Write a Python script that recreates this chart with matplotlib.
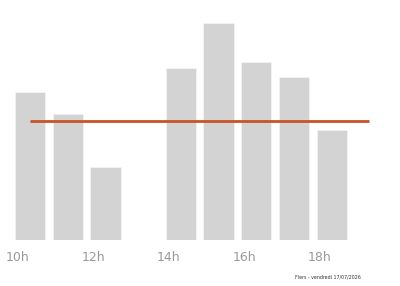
import matplotlib.pyplot as plt
import numpy as np

# hourly values (13h and 19h are empty)
hours = [10, 11, 12, 13, 14, 15, 16, 17, 18, 19]
values = [148, 126, 73, 0, 172, 217, 178, 163, 110, 0]
tick_hours = [10, 12, 14, 16, 18]
tick_labels = [f"{h}h" for h in tick_hours]
footer = "Flers - vendredi 17/07/2026"

COLOR_BAR = "#d3d3d3"
COLOR_AVG = "#c65426"
COLOR_TICK = "#999999"

avg = np.mean(values)

fig = plt.figure(figsize=(4.0, 2.86), dpi=100)
ax = fig.add_axes([0, 0.1608, 1, 0.8042])

x = np.array(hours) - 0.08
ax.bar(x, values, width=0.8, align="edge", color=COLOR_BAR,
       edgecolor="#f3f3f3", linewidth=0.6)
ax.plot([hours[0] + 0.32, hours[-1] + 0.32], [avg, avg], color=COLOR_AVG,
        linewidth=2, solid_capstyle="butt")

ax.set_xlim(9.5225, 20.133)
ax.set_ylim(0, 230)
ax.set_xticks(tick_hours)
ax.set_xticklabels(tick_labels, color=COLOR_TICK, fontsize=9)
ax.tick_params(axis="x", length=0, pad=8)
ax.set_yticks([])
for s in ax.spines.values():
    s.set_visible(False)

fig.text(0.82, 0.03, footer, fontsize=3.4, color="#333333", ha="center", va="center")

fig.savefig("out.png", facecolor="white")
